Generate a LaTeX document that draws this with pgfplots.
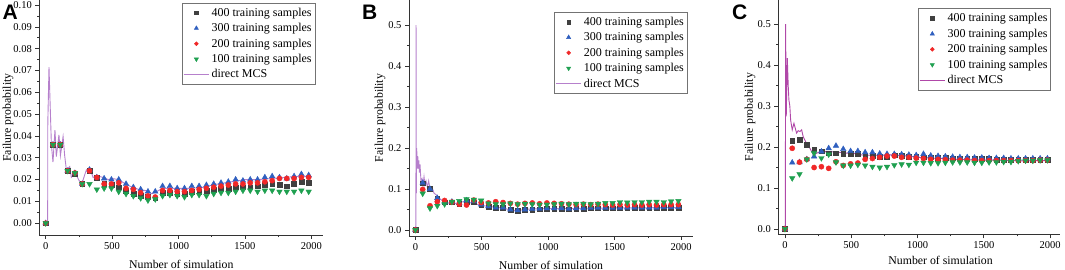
\documentclass[border=0pt]{standalone}
\usepackage{fontspec}
\setmainfont{Liberation Serif}
\newfontfamily\labfont{Liberation Sans}
\usepackage{pgfplots}
\usepackage{pgfplotstable}
\pgfplotsset{compat=1.18}
\definecolor{cs}{HTML}{404040}
\definecolor{ct}{HTML}{2F5FBF}
\definecolor{cc}{HTML}{F02828}
\definecolor{cv}{HTML}{1FA050}
\definecolor{cmA}{HTML}{B680CC}
\definecolor{cmC}{HTML}{B048A8}

\pgfplotstableread{
x s t c v
0 0 0 0 0
55 0.036 0.036 0.036 0.036
110 0.036 0.036 0.036 0.036
165 0.024 0.024 0.024 0.024
220 0.0228 0.023 0.023 0.023
275 0.018 0.018 0.018 0.018
330 0.024 0.0245 0.024 0.018
385 0.021 0.021 0.021 0.0155
440 0.018 0.0205 0.018 0.016
495 0.0175 0.020 0.018 0.016
550 0.0165 0.020 0.0185 0.0145
605 0.015 0.018 0.016 0.0135
660 0.0135 0.0165 0.0155 0.0125
715 0.0125 0.0155 0.014 0.0115
770 0.012 0.0145 0.0125 0.0105
825 0.0115 0.0145 0.012 0.011
880 0.014 0.017 0.015 0.0125
935 0.014 0.017 0.015 0.013
990 0.0135 0.016 0.0145 0.0125
1045 0.0135 0.016 0.0145 0.012
1100 0.0145 0.017 0.015 0.013
1155 0.0145 0.017 0.0155 0.013
1210 0.015 0.0175 0.016 0.0125
1265 0.0155 0.018 0.0165 0.0135
1320 0.016 0.0185 0.017 0.014
1375 0.016 0.019 0.0175 0.014
1430 0.0165 0.020 0.018 0.0145
1485 0.0165 0.0195 0.018 0.015
1540 0.0165 0.020 0.0185 0.015
1595 0.017 0.020 0.0185 0.0145
1650 0.0175 0.021 0.019 0.015
1705 0.018 0.0215 0.0195 0.015
1760 0.0175 0.021 0.0205 0.0145
1815 0.017 0.0205 0.0205 0.0145
1870 0.018 0.0215 0.0205 0.0145
1925 0.019 0.0225 0.021 0.015
1980 0.0185 0.022 0.021 0.0145
}\dA

\pgfplotstableread{
x s t c v
0 0 0 0 0
55 0.114 0.115 0.099 0.089
110 0.100 0.100 0.059 0.053
165 0.077 0.078 0.069 0.059
220 0.068 0.069 0.072 0.063
275 0.068 0.069 0.068 0.069
330 0.065 0.066 0.063 0.071
385 0.070 0.072 0.061 0.075
440 0.068 0.070 0.073 0.074
495 0.061 0.062 0.067 0.072
550 0.057 0.058 0.066 0.065
605 0.054 0.055 0.069 0.063
660 0.054 0.055 0.067 0.063
715 0.049 0.050 0.065 0.065
770 0.047 0.048 0.063 0.063
825 0.049 0.050 0.065 0.064
880 0.050 0.051 0.066 0.063
935 0.051 0.052 0.064 0.062
990 0.052 0.053 0.066 0.062
1045 0.052 0.053 0.065 0.063
1100 0.052 0.053 0.064 0.064
1155 0.051 0.052 0.063 0.063
1210 0.052 0.053 0.062 0.064
1265 0.052 0.053 0.063 0.064
1320 0.053 0.054 0.062 0.063
1375 0.053 0.054 0.063 0.064
1430 0.053 0.054 0.062 0.066
1485 0.053 0.054 0.061 0.066
1540 0.053 0.054 0.062 0.068
1595 0.054 0.055 0.061 0.067
1650 0.054 0.055 0.062 0.068
1705 0.054 0.055 0.061 0.068
1760 0.054 0.055 0.062 0.069
1815 0.054 0.055 0.061 0.069
1870 0.055 0.056 0.062 0.068
1925 0.055 0.056 0.062 0.070
1980 0.055 0.056 0.062 0.071
}\dB

\pgfplotstableread{
x s t c v
0 0 0 0 0
55 0.215 0.162 0.197 0.124
110 0.217 0.163 0.163 0.134
165 0.205 0.170 0.170 0.170
220 0.195 0.177 0.150 0.185
275 0.190 0.189 0.152 0.173
330 0.185 0.197 0.148 0.182
385 0.185 0.203 0.164 0.163
440 0.184 0.195 0.155 0.155
495 0.184 0.190 0.159 0.155
550 0.183 0.190 0.161 0.157
605 0.178 0.187 0.170 0.155
660 0.178 0.187 0.172 0.152
715 0.176 0.184 0.175 0.150
770 0.175 0.183 0.178 0.152
825 0.180 0.183 0.178 0.156
880 0.178 0.182 0.175 0.158
935 0.177 0.181 0.175 0.157
990 0.176 0.180 0.173 0.162
1045 0.175 0.183 0.172 0.162
1100 0.175 0.179 0.170 0.161
1155 0.174 0.178 0.170 0.161
1210 0.174 0.177 0.169 0.162
1265 0.173 0.176 0.168 0.163
1320 0.173 0.175 0.168 0.163
1375 0.172 0.175 0.168 0.163
1430 0.172 0.174 0.167 0.162
1485 0.171 0.174 0.167 0.162
1540 0.171 0.173 0.167 0.163
1595 0.170 0.173 0.167 0.163
1650 0.170 0.173 0.167 0.164
1705 0.170 0.172 0.167 0.164
1760 0.170 0.172 0.167 0.166
1815 0.170 0.172 0.167 0.167
1870 0.170 0.172 0.167 0.167
1925 0.170 0.172 0.168 0.168
1980 0.170 0.172 0.168 0.168
}\dC

\newcommand\labsize{\fontsize{11.8}{14}\selectfont}
\pgfplotsset{
 panel/.style={
  scale only axis, anchor=south west,
  axis x line=bottom, axis y line=left,
  axis line style={-, draw=black!80, line width=0.6pt},
  tick align=outside, major tick length=4pt, minor tick length=2.2pt,
  tick style={black!80, line width=0.6pt},
  xtick={0,500,1000,1500,2000}, minor x tick num=1,
  minor y tick num=1,
  /pgf/number format/assume math mode=true,
  /pgf/number format/set thousands separator={},
  scaled y ticks=false,
  tick label style={font=\fontsize{10.5}{12}\selectfont},
  xlabel={Number of simulation}, ylabel={Failure probability},
  legend cell align=left,
  legend style={draw=black!55, line width=0.5pt, font=\fontsize{12}{14}\selectfont, inner xsep=1.2pt, inner ysep=3pt, row sep=1.6pt, anchor=north east},
  legend image code/.code={\draw[mark repeat=2,mark phase=2,##1] plot coordinates {(0cm,0cm) (0.45cm,0cm) (0.9cm,0cm)};},
  legend image post style={every mark/.append style={scale=0.75}},
 },
 xlab/.style 2 args={every axis x label/.style={at={(rel axis cs:#1,0)}, yshift=#2, anchor=center, font=\labsize}},
 ylab/.style={every axis y label/.style={at={(rel axis cs:0,0.5)}, xshift=#1, rotate=90, anchor=center, font=\labsize}},
 psq/.style={only marks, mark=square*, mark size=2.4pt, color=cs},
 ptr/.style={only marks, mark=triangle*, mark size=3.2pt, color=ct},
 pci/.style={only marks, mark=*, mark size=2.6pt, color=cc},
 pdn/.style={only marks, mark=triangle*, mark options={rotate=180}, mark size=3.2pt, color=cv},
}

\begin{document}
\begin{tikzpicture}
\useasboundingbox (0,0) rectangle (1065pt,270pt);

% ---------- A ----------
\begin{axis}[panel, at={(39.3pt,35pt)}, width=284pt, height=235pt,
  xlab={0.5}{-29.5pt}, ylab={-31.3pt},
  xmin=-48, xmax=2090, ymin=-0.0054, ymax=0.1023,
  ytick={0,0.01,0.02,0.03,0.04,0.05,0.06,0.07,0.08,0.09,0.1},
  yticklabel style={/pgf/number format/fixed, /pgf/number format/fixed zerofill, /pgf/number format/precision=2},
  legend style={at={(0.971,0.9885)}}]
\addplot[psq] table[x=x,y=s]{\dA};
\addplot[ptr] table[x=x,y=t]{\dA};
\addplot[pci] table[x=x,y=c]{\dA};
\addplot[pdn] table[x=x,y=v]{\dA};
\addplot[cmA, line width=0.9pt, no marks] coordinates {
(0,0) (15,0) (16,0.0458) (25,0.0715) (43,0.036) (55,0.028) (70,0.0427) (80,0.0305)
(100,0.0405) (111,0.031) (131,0.0397) (143,0.031) (156,0.0244) (181,0.026) (193,0.021)
(219,0.023) (240,0.021) (269,0.0175) (306,0.0244) (332,0.0255) (357,0.021) (394,0.0216)
(432,0.021) (470,0.020) (500,0.0205) (550,0.020) (600,0.018) (650,0.0165) (700,0.0155)
(750,0.015) (800,0.0135) (850,0.015) (880,0.016) (950,0.016) (1000,0.016) (1100,0.016)
(1200,0.0165) (1250,0.0175) (1300,0.018) (1350,0.0185) (1400,0.019) (1450,0.0195)
(1500,0.020) (1600,0.020) (1700,0.0205) (1800,0.021) (1900,0.0215) (1990,0.0215)};
\legend{400 training samples,300 training samples,200 training samples,100 training samples,direct MCS}
\end{axis}

% ---------- B ----------
\begin{axis}[panel, at={(409pt,34pt)}, width=284pt, height=236pt,
  xlab={0.5}{-29pt}, ylab={-29pt},
  xmin=-48, xmax=2090, ymin=-0.0146, ymax=0.561,
  ytick={0,0.1,0.2,0.3,0.4,0.5},
  yticklabel style={/pgf/number format/fixed, /pgf/number format/fixed zerofill, /pgf/number format/precision=1},
  legend style={at={(0.98,0.95)}}]
\addplot[psq] table[x=x,y=s]{\dB};
\addplot[ptr] table[x=x,y=t]{\dB};
\addplot[pci] table[x=x,y=c]{\dB};
\addplot[pdn] table[x=x,y=v]{\dB};
\addplot[cmA, line width=0.9pt, no marks] coordinates {
(0,0) (4,0) (5,0.5) (7,0.09) (10,0.2) (14,0.15) (18,0.18) (22,0.15) (26,0.17) (30,0.14)
(35,0.16) (42,0.12) (50,0.125) (58,0.11) (65,0.13) (72,0.11) (80,0.12) (90,0.105)
(100,0.12) (110,0.10) (125,0.105) (140,0.09) (160,0.085) (180,0.078) (200,0.072)
(230,0.068) (260,0.065) (300,0.065) (340,0.068) (380,0.07) (420,0.066) (460,0.063)
(500,0.06) (560,0.057) (620,0.055) (680,0.052) (720,0.048) (780,0.048) (850,0.051)
(950,0.052) (1100,0.052) (1300,0.053) (1500,0.054) (1700,0.054) (1900,0.055) (1990,0.055)};
\legend{400 training samples,300 training samples,200 training samples,100 training samples,direct MCS}
\end{axis}

% ---------- C ----------
\begin{axis}[panel, at={(778.3pt,35.7pt)}, width=281.7pt, height=234.3pt,
  xlab={0.576}{-25.7pt}, ylab={-28.3pt},
  xmin=-50, xmax=2075, ymin=-0.013, ymax=0.559,
  ytick={0,0.1,0.2,0.3,0.4,0.5},
  yticklabel style={/pgf/number format/fixed, /pgf/number format/fixed zerofill, /pgf/number format/precision=1},
  legend style={at={(0.968,0.9646)}}]
\addplot[psq] table[x=x,y=s]{\dC};
\addplot[ptr] table[x=x,y=t]{\dC};
\addplot[pci] table[x=x,y=c]{\dC};
\addplot[pdn] table[x=x,y=v]{\dC};
\addplot[cmC, line width=0.9pt, no marks] coordinates {
(0,0) (3,0) (5,0.5) (10,0.275) (18,0.417) (25,0.348) (30,0.315) (37,0.3) (43,0.266)
(55,0.242) (68,0.258) (88,0.234) (100,0.24) (113,0.238) (126,0.242) (138,0.225)
(163,0.209) (189,0.197) (214,0.181) (239,0.185) (264,0.189) (314,0.189) (390,0.188)
(465,0.185) (500,0.186) (550,0.182) (600,0.18) (700,0.18) (800,0.181) (900,0.179)
(1000,0.175) (1100,0.173) (1200,0.172) (1300,0.17) (1400,0.169) (1500,0.168)
(1600,0.168) (1700,0.167) (1800,0.166) (1900,0.167) (1990,0.167)};
\legend{400 training samples,300 training samples,200 training samples,100 training samples,direct MCS}
\end{axis}

\node[anchor=base west, inner sep=0pt, font=\labfont\bfseries\fontsize{21}{21}\selectfont] at (2.5pt,250pt) {A};
\node[anchor=base west, inner sep=0pt, font=\labfont\bfseries\fontsize{21}{21}\selectfont] at (362pt,250pt) {B};
\node[anchor=base west, inner sep=0pt, font=\labfont\bfseries\fontsize{21}{21}\selectfont] at (732pt,250pt) {C};
\end{tikzpicture}
\end{document}
